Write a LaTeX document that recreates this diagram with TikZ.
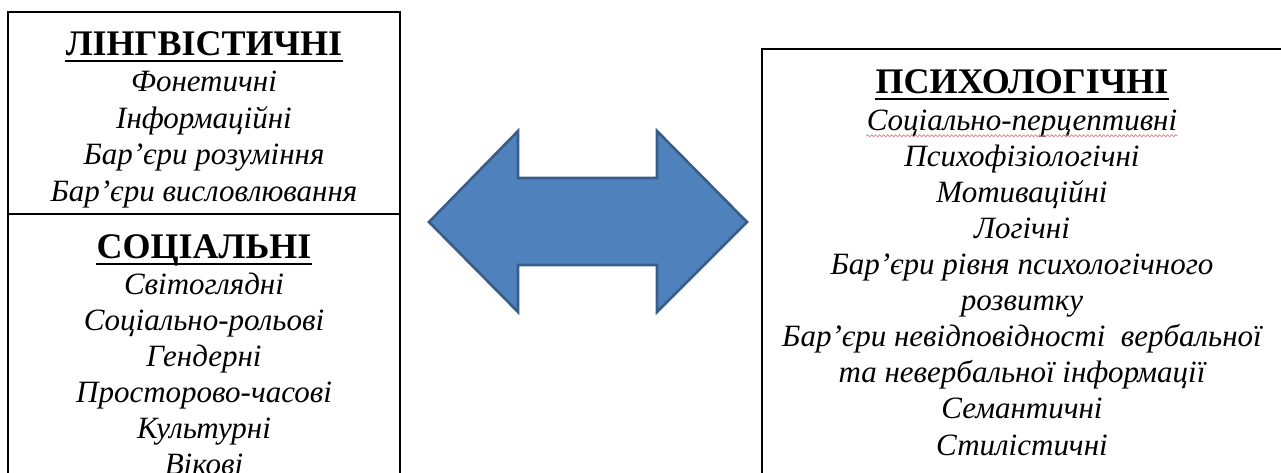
\documentclass[tikz,border=0pt]{standalone}
\usepackage{fontspec}
\setmainfont{Liberation Serif}
\usetikzlibrary{decorations.pathmorphing}

\definecolor{arrowfill}{RGB}{79,129,189}
\definecolor{arrowline}{RGB}{56,93,138}

\begin{document}
\begin{tikzpicture}[x=0.5pt, y=-0.5pt,
    box/.style={draw=black, line width=0.8pt},
    heading/.style={font=\fontsize{18}{18}\selectfont\bfseries, inner sep=0pt, anchor=base},
    item/.style={font=\fontsize{15.5}{18}\selectfont\itshape, inner sep=0pt, anchor=base}]
    % picture size
    \useasboundingbox (0,0) rectangle (1281,472);
    \clip (0,0) rectangle (1281,472);

    % boxes
    \draw[box] (8,214) -- (8,12) -- (400,12) -- (400,214);
    \draw[box] (8,214) rectangle (400,490);
    \draw[box] (762,49) rectangle (1300,490);

    % double arrow
    \draw[fill=arrowfill, draw=arrowline, line width=1.3pt, line join=miter]
        (429,222) -- (518,131) -- (518,178) -- (657,178) -- (657,131)
        -- (747,222) -- (657,312) -- (657,265) -- (518,265) -- (518,312) -- cycle;

    % left box, top
    \node[heading] (lng) at (204,55) {ЛІНГВІСТИЧНІ};
    \foreach \txt [count=\i] in {Фонетичні, Інформаційні, Бар’єри розуміння, Бар’єри висловлювання}
        \node[item] (lng\i) at (204,55+36.5*\i) {\txt};

    % left box, bottom
    \node[heading] (soc) at (204,258) {СОЦІАЛЬНІ};
    \foreach \txt [count=\i] in {Світоглядні, Соціально-рольові, Гендерні, Просторово-часові, Культурні, Вікові}
        \node[item] (soc\i) at (204,258+36*\i) {\txt};

    % right box
    \node[heading] (psy) at (1022,93) {ПСИХОЛОГІЧНІ};
    \foreach \txt [count=\i] in {Соціально-перцептивні, Психофізіологічні, Мотиваційні, Логічні,
        Бар’єри рівня психологічного, розвитку, Бар’єри невідповідності\ \ вербальної,
        та невербальної інформації, Семантичні, Стилістичні}
        \node[item] (psy\i) at (1022,94+36.1*\i) {\txt};

    % underlines
    \foreach \h in {lng, soc, psy}
        \draw[line width=1pt] ([yshift=-2.8pt]\h.base west) -- ([yshift=-2.8pt]\h.base east);
    \draw[red!55, line width=0.4pt, decorate, decoration={snake, amplitude=0.5pt, segment length=2pt}]
        ([yshift=-2.8pt]psy1.base west) -- ([yshift=-2.8pt]psy1.base east);
\end{tikzpicture}
\end{document}
